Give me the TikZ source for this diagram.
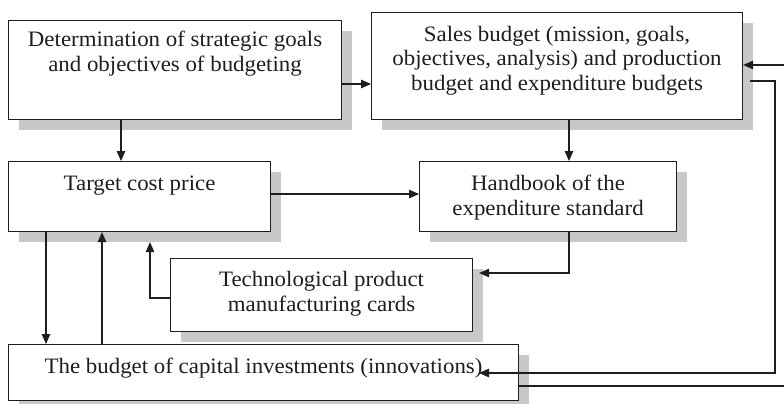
\documentclass[tikz,border=0pt]{standalone}
\usepackage{fontspec}
\setmainfont{Liberation Serif}[FakeStretch=1.04]
\usetikzlibrary{arrows.meta,shadows}
\definecolor{shadowc}{RGB}{200,200,203}
\definecolor{ink}{RGB}{30,30,30}
\begin{document}
\begin{tikzpicture}[x=1pt,y=-1pt,
  box/.style={draw=ink,line width=1.1pt,fill=white,inner sep=0pt,anchor=north west,
    drop shadow={shadow xshift=10pt,shadow yshift=-10pt,fill=shadowc,opacity=1}},
  txt/.style={font=\fontsize{22}{24.5}\selectfont,align=center,anchor=base,inner sep=0pt,text=ink},
  arr/.style={draw=ink,line width=1.1pt,-{Triangle[length=10pt,width=8.5pt]}},
  ln/.style={draw=ink,line width=1.1pt}]
\useasboundingbox (0,0) rectangle (784,404);
\node[box,minimum width=333pt,minimum height=99pt] (A) at (8,20) {};
\node[box,minimum width=371pt,minimum height=107pt] (B) at (371,12) {};
\node[box,minimum width=262pt,minimum height=70pt] (C) at (8,161) {};
\node[box,minimum width=257pt,minimum height=70pt] (D) at (419,161) {};
\node[box,minimum width=302pt,minimum height=73pt] (E) at (170,258) {};
\node[box,minimum width=510pt,minimum height=56pt] (F) at (8,344) {};

\node[txt] (tA) at (A.north |- 0,71) {Determination of strategic goals\\and objectives of budgeting};
\node[txt] (tB) at (B.north |- 0,90) {Sales budget (mission, goals,\\objectives, analysis) and production\\budget and expenditure budgets};
\node[txt] (tC) at (C.north |- 0,190) {Target cost price};
\node[txt] (tD) at (D.north |- 0,215) {Handbook of the\\expenditure standard};
\node[txt] (tE) at (E.north |- 0,311) {Technological product\\manufacturing cards};
\node[txt] (tF) at (F.north |- 0,373) {The budget of capital investments (innovations)};

\coordinate (inR) at (784,65);
\coordinate (outR) at (784,386);
\coordinate (bS) at (750,81);
\coordinate (fIn) at (479,373);

\draw[arr] (A.east |- 0,84) -- (B.west |- 0,84);
\draw[arr] (A.south -| 121,0) -- (C.north -| 121,0);
\draw[arr] (B.south -| 569,0) -- (D.north -| 569,0);
\draw[arr] (C.east |- 0,194) -- (D.west |- 0,194);
\draw[arr] (D.south -| 569,0) |- ([xshift=6pt]E.east |- 0,273);
\draw[arr] (E.west |- 0,298) -| ([yshift=-10pt]C.south -| 150,0);
\draw[arr] (C.south -| 46,0) -- (F.north -| 46,0);
\draw[arr] (F.north -| 102,0) -- (C.south -| 102,0);
\draw[arr] (inR) -- (B.east |- inR);
\draw[arr] (bS) -| (775,373) -- (fIn);
\draw[ln] (F.east |- outR) -- (outR);
\end{tikzpicture}
\end{document}
